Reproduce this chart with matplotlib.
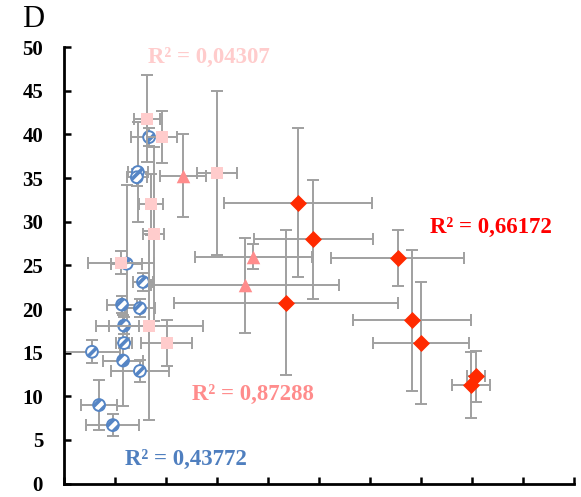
import matplotlib
matplotlib.use("Agg")
import matplotlib.pyplot as plt

plt.rcParams['font.family'] = ['Liberation Serif', 'DejaVu Serif']
plt.rcParams['hatch.linewidth'] = 2.6

# Blue series (hatched circles)
blue_x = [0.55, 0.69, 0.96, 1.18, 1.16, 1.18, 1.14, 1.49, 1.55, 1.23, 1.49, 1.45, 1.43, 1.67]
blue_y = [15.1, 9.0, 6.7, 16.1, 14.1, 18.1, 20.5, 20.1, 23.1, 25.2, 12.9, 35.7, 35.1, 39.7]
blue_xerr = [0.55, 0.36, 0.52, 0.15, 0.4, 0.3, 0.3, 0.3, 0.2, 0.3, 0.57, 0.2, 0.2, 0.35]
blue_yerr = [1.3, 2.9, 1.3, 0.6, 5.2, 1.0, 1.0, 1.0, 1.0, 9.0, 1.3, 5.7, 1.0, 1.0]

# Light pink series (squares)
pink_x = [1.63, 1.92, 3.00, 1.71, 1.76, 1.12, 1.67, 2.02]
pink_y = [41.8, 39.7, 35.6, 32.0, 28.6, 25.3, 18.1, 16.1]
pink_xerr = [0.25, 0.3, 0.4, 0.24, 0.2, 0.65, 1.05, 0.5]
pink_yerr = [5.0, 3.0, 9.4, 3.5, 10.0, 1.3, 10.8, 2.6]

# Salmon series (triangles)
tri_x = [2.33, 3.71, 3.55]
tri_y = [35.3, 26.0, 22.7]
tri_xerr = [0.45, 1.15, 1.85]
tri_yerr = [4.7, 1.4, 5.4]

# Red series (diamonds)
red_x = [4.58, 4.89, 4.35, 6.54, 6.82, 7.00, 8.08, 7.98]
red_y = [32.2, 28.0, 20.7, 25.8, 18.7, 16.1, 12.3, 11.3]
red_xerr = [1.45, 1.17, 2.2, 1.3, 1.16, 0.94, 0.17, 0.38]
red_yerr = [8.5, 6.8, 8.3, 3.2, 8.1, 7.0, 2.9, 3.8]

r2_labels = ["R² = 0,04307", "R² = 0,66172", "R² = 0,87288", "R² = 0,43772"]
yticks = [0, 5, 10, 15, 20, 25, 30, 35, 40, 45, 50]

BLUE = '#5585C5'
PINK = '#FFCCCC'
SALMON = '#FF8C8C'
RED = '#FF2A00'
ERR = '#A0A0A0'

fig = plt.figure(figsize=(5.81, 4.97), dpi=100)
ax = fig.add_axes([0.110, 0.027, 0.878, 0.878])

ekw = dict(fmt='none', ecolor=ERR, elinewidth=1.4, capsize=4.2, capthick=1.4)

ax.errorbar(blue_x, blue_y, xerr=blue_xerr, yerr=blue_yerr, zorder=2, **ekw)
ax.scatter(blue_x, blue_y, s=72, facecolor='white', edgecolor=BLUE, hatch='///',
           linewidths=1.4, zorder=3)

ax.errorbar(pink_x, pink_y, xerr=pink_xerr, yerr=pink_yerr, zorder=4, **ekw)
ax.scatter(pink_x, pink_y, s=80, marker='s', color=PINK, linewidths=0, zorder=5)

ax.errorbar(tri_x, tri_y, xerr=tri_xerr, yerr=tri_yerr, zorder=6, **ekw)
ax.scatter(tri_x, tri_y, s=95, marker='^', color=SALMON, linewidths=0, zorder=7)

ax.errorbar(red_x, red_y, xerr=red_xerr, yerr=red_yerr, zorder=8, **ekw)
ax.scatter(red_x, red_y, s=75, marker='D', color=RED, linewidths=0, zorder=9)

tkw = dict(fontsize=16.5, fontweight='bold', va='center', ha='left', zorder=10)
ax.text(1.64, 48.8, r2_labels[0], color=PINK, **tkw)
ax.text(7.18, 29.3, r2_labels[1], color='#FF0000', **tkw)
ax.text(2.52, 10.2, r2_labels[2], color=SALMON, **tkw)
ax.text(1.19, 2.8, r2_labels[3], color='#4F7FBF', **tkw)

ax.set_xlim(0, 10)
ax.set_ylim(0, 50)
ax.set_xticks(range(0, 11))
ax.set_xticklabels([])
ax.set_yticks(yticks)
ax.set_yticklabels([str(v) for v in yticks], fontsize=15, fontweight='bold')
ax.tick_params(axis='both', direction='in', length=5, width=1.8, color='black')
ax.tick_params(axis='y', pad=15)
for side in ['top', 'right']:
    ax.spines[side].set_visible(False)
for side in ['left', 'bottom']:
    ax.spines[side].set_linewidth(2)
    ax.spines[side].set_color('black')

fig.text(0.038, 0.96, "D", fontsize=22, va='center', ha='left')

fig.savefig("out.png", dpi=100)
